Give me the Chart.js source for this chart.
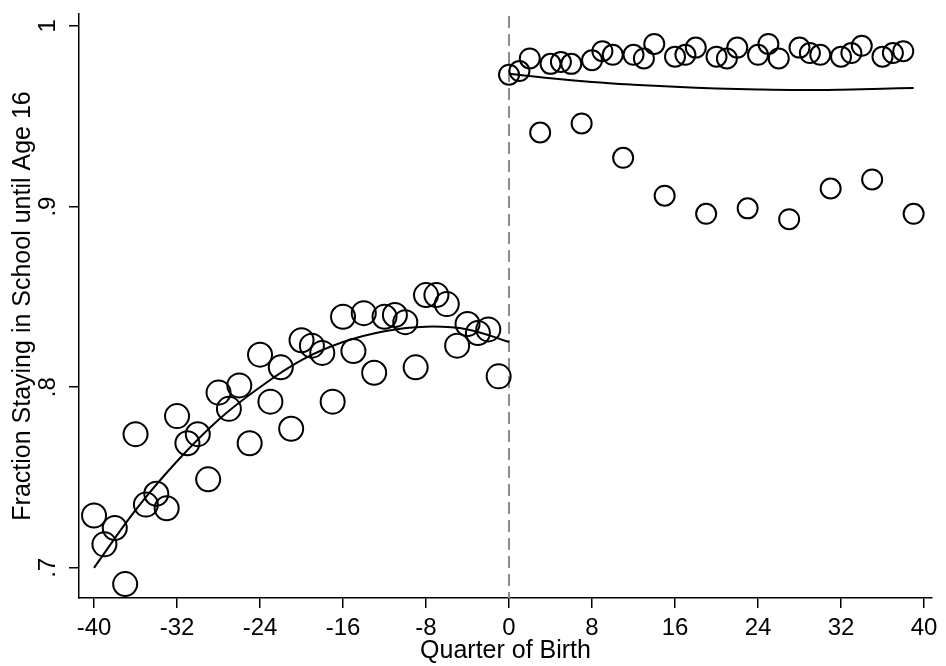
<!DOCTYPE html>
<html>
<head>
<meta charset="utf-8">
<title>Fraction Staying in School until Age 16</title>
<script src="https://cdn.jsdelivr.net/npm/chart.js"></script>
<style>
  html, body { margin: 0; padding: 0; background: #fff; }
  #wrap { width: 946px; height: 666px; }
</style>
</head>
<body>
<div id="wrap"><canvas id="myChart"></canvas></div>
<script>
// cohorts born before the reform (quarters relative to the cutoff)
const quartersBefore = [-40, -39, -38, -37, -36, -35, -34, -33, -32, -31, -30, -29, -28, -27, -26, -25, -24, -23, -22, -21,
                        -20, -19, -18, -17, -16, -15, -14, -13, -12, -11, -10, -9, -8, -7, -6, -5, -4, -3, -2, -1];
const shareBefore = [0.729, 0.713, 0.722, 0.691, 0.774, 0.735, 0.741, 0.733, 0.784, 0.769, 0.774, 0.749, 0.797, 0.788, 0.801, 0.769, 0.818, 0.792, 0.811, 0.777,
                     0.826, 0.823, 0.819, 0.792, 0.839, 0.820, 0.841, 0.808, 0.839, 0.840, 0.836, 0.811, 0.851, 0.851, 0.846, 0.823, 0.835, 0.830, 0.832, 0.806];

// cohorts born after
const quartersAfter = [0, 1, 2, 3, 4, 5, 6, 7, 8, 9, 10, 11, 12, 13, 14, 15, 16, 17, 18, 19,
                       20, 21, 22, 23, 24, 25, 26, 27, 28, 29, 30, 31, 32, 33, 34, 35, 36, 37, 38, 39];
const shareAfter = [0.973, 0.975, 0.982, 0.941, 0.979, 0.980, 0.979, 0.946, 0.981, 0.986, 0.984, 0.927, 0.984, 0.982, 0.990, 0.906, 0.983, 0.984, 0.988, 0.896,
                    0.983, 0.982, 0.988, 0.899, 0.984, 0.990, 0.982, 0.893, 0.988, 0.985, 0.984, 0.910, 0.983, 0.985, 0.989, 0.915, 0.983, 0.985, 0.986, 0.896];

// fitted trend on each side of the cutoff
const fitQuartersBefore = [-40, -36, -32, -28, -24, -20, -16, -12, -8, -4, 0];
const fitBefore = [0.700, 0.732, 0.759, 0.782, 0.800, 0.815, 0.825, 0.831, 0.8335, 0.832, 0.825];
const fitQuartersAfter = [0, 4, 8, 12, 16, 20, 24, 28, 32, 36, 39];
const fitAfter = [0.9735, 0.9710, 0.9690, 0.9675, 0.9663, 0.9654, 0.9648, 0.9645, 0.9647, 0.9652, 0.9657];

const xTickValues = [-40, -32, -24, -16, -8, 0, 8, 16, 24, 32, 40];
const yTickValues = [0.7, 0.8, 0.9, 1];
const cutoff = 0;

const FONT = '"Liberation Sans", Arial, Helvetica, sans-serif';

const toPoints = (xs, ys) => xs.map((x, i) => ({ x: x, y: ys[i] }));

const cutoffLine = {
  id: 'cutoffLine',
  beforeDatasetsDraw(chart) {
    const { ctx, chartArea } = chart;
    const px = chart.scales.x.getPixelForValue(cutoff);
    ctx.save();
    ctx.strokeStyle = '#8c8c8c';
    ctx.lineWidth = 2;
    ctx.setLineDash([12, 6]);
    ctx.beginPath();
    ctx.moveTo(px, chartArea.top + 2);
    ctx.lineTo(px, chartArea.bottom);
    ctx.stroke();
    ctx.restore();
  }
};

// y tick labels are written along the axis
const yTickLabels = {
  id: 'yTickLabels',
  afterDraw(chart) {
    const { ctx } = chart;
    const y = chart.scales.y;
    ctx.save();
    ctx.font = '24px ' + FONT;
    ctx.fillStyle = '#000';
    ctx.textAlign = 'center';
    ctx.textBaseline = 'middle';
    yTickValues.forEach(v => {
      const label = v === 1 ? '1' : String(v).replace(/^0/, '');
      ctx.save();
      ctx.translate(48, y.getPixelForValue(v));
      ctx.rotate(-Math.PI / 2);
      ctx.fillText(label, 0, 0);
      ctx.restore();
    });
    ctx.restore();
  }
};

const fitLine = (xs, ys) => ({
  data: toPoints(xs, ys),
  showLine: true,
  borderColor: '#000',
  borderWidth: 2,
  tension: 0.4,
  pointRadius: 0,
  fill: false
});

const ctx = document.getElementById('myChart');

const chart = new Chart(ctx, {
  type: 'scatter',
  data: {
    datasets: [
      fitLine(fitQuartersBefore, fitBefore),
      fitLine(fitQuartersAfter, fitAfter),
      {
        data: toPoints(quartersBefore, shareBefore),
        pointStyle: 'circle',
        pointRadius: 12,
        pointBorderWidth: 2,
        pointBorderColor: '#000',
        pointBackgroundColor: 'rgba(0,0,0,0)'
      },
      {
        data: toPoints(quartersAfter, shareAfter),
        pointStyle: 'circle',
        pointRadius: 10,
        pointBorderWidth: 2,
        pointBorderColor: '#000',
        pointBackgroundColor: 'rgba(0,0,0,0)'
      }
    ]
  },
  options: {
    responsive: true,
    maintainAspectRatio: false,
    animation: false,
    layout: { padding: { left: 0, right: 8, top: 8, bottom: 0 } },
    plugins: {
      legend: { display: false },
      tooltip: { enabled: false }
    },
    scales: {
      x: {
        type: 'linear',
        min: -41.45,
        max: 40.77,
        afterBuildTicks: s => { s.ticks = xTickValues.map(v => ({ value: v })); },
        afterFit: s => { s.height = 68; },
        border: { display: true, color: '#000', width: 1.5 },
        grid: { drawOnChartArea: false, color: '#000', lineWidth: 1.5, tickLength: 10 },
        ticks: {
          autoSkip: false,
          maxRotation: 0,
          padding: 6,
          color: '#000',
          font: { family: FONT, size: 24 }
        },
        title: {
          display: true,
          text: 'Quarter of Birth',
          color: '#000',
          font: { family: FONT, size: 25 },
          padding: { top: 0, bottom: 0 }
        }
      },
      y: {
        type: 'linear',
        min: 0.6833,
        max: 1.0066,
        afterBuildTicks: s => { s.ticks = yTickValues.map(v => ({ value: v })); },
        afterFit: s => { s.width = 79; },
        border: { display: true, color: '#000', width: 1.5 },
        grid: { drawOnChartArea: false, color: '#000', lineWidth: 1.5, tickLength: 10 },
        ticks: { display: false },
        title: {
          display: true,
          text: 'Fraction Staying in School until Age 16',
          color: '#000',
          font: { family: FONT, size: 25 },
          padding: { top: 8, bottom: 0 }
        }
      }
    }
  },
  plugins: [cutoffLine, yTickLabels]
});
</script>
</body>
</html>
